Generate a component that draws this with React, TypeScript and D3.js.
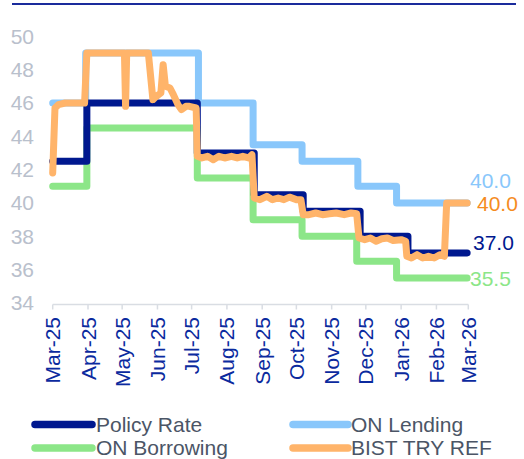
import React from "react";
import * as d3 from "d3";

const W = 524;
const H = 459;

const monthLabels = ["Mar-25","Apr-25","May-25","Jun-25","Jul-25","Aug-25","Sep-25","Oct-25","Nov-25","Dec-25","Jan-26","Feb-26","Mar-26"];
const yTicks = [34, 36, 38, 40, 42, 44, 46, 48, 50];

// Step series: change dates and values (last point = end of data)
const policyDates = ["2025-03-01","2025-03-31","2025-07-06","2025-08-25","2025-10-07","2025-11-26","2026-01-07","2026-02-28"];
const policyValues = [42.5, 46, 43, 40.5, 39.5, 38, 37, 37];

const lendingDates = ["2025-03-01","2025-03-30","2025-07-07","2025-08-24","2025-10-06","2025-11-24","2025-12-28","2026-02-28"];
const lendingValues = [46, 49, 46, 43.5, 42.5, 41, 40, 40];

const borrowingDates = ["2025-03-01","2025-03-31","2025-07-06","2025-08-24","2025-10-06","2025-11-23","2025-12-28","2026-02-28"];
const borrowingValues = [41, 44.5, 41.5, 39, 38, 36.5, 35.5, 35.5];

const bistDates = [
  "2025-03-01","2025-03-03","2025-03-06","2025-03-12","2025-03-29","2025-03-31",
  "2025-05-03","2025-05-04","2025-05-05","2025-05-24","2025-05-28","2025-05-31",
  "2025-06-04","2025-06-06","2025-06-08","2025-06-12","2025-06-15","2025-06-19",
  "2025-06-22","2025-06-26","2025-06-29","2025-07-05","2025-07-06",
  "2025-07-10","2025-07-15","2025-07-20","2025-07-25","2025-07-30","2025-08-05",
  "2025-08-10","2025-08-15","2025-08-20","2025-08-23","2025-08-25",
  "2025-08-30","2025-09-05","2025-09-10","2025-09-15","2025-09-20","2025-09-25",
  "2025-10-01","2025-10-05","2025-10-07",
  "2025-10-12","2025-10-18","2025-10-24","2025-10-30","2025-11-05","2025-11-12",
  "2025-11-18","2025-11-23","2025-11-25",
  "2025-11-30","2025-12-05","2025-12-10","2025-12-15","2025-12-20","2025-12-25",
  "2026-01-01","2026-01-05","2026-01-06",
  "2026-01-10","2026-01-15","2026-01-20","2026-01-25","2026-01-30","2026-02-04",
  "2026-02-08","2026-02-10","2026-02-28"
];
const bistValues = [
  41.8, 45.7, 45.9, 46.0, 46.0, 49.0,
  49.0, 45.8, 49.0, 49.0, 46.2, 46.4,
  46.6, 48.3, 47.0, 46.9, 46.5, 45.9,
  45.6, 45.8, 45.8, 45.7, 42.8,
  42.7, 42.8, 42.6, 42.8, 42.7, 42.8,
  42.7, 42.8, 42.7, 42.9, 40.3,
  40.2, 40.4, 40.2, 40.3, 40.2, 40.35,
  40.2, 40.2, 39.3,
  39.3, 39.4, 39.3, 39.35, 39.4, 39.3,
  39.4, 39.35, 37.9,
  37.8, 37.9, 37.7, 37.85, 37.9, 37.75,
  37.8, 37.7, 36.8,
  36.7, 36.9, 36.7, 36.8, 36.7, 36.9,
  36.8, 40.0, 40.0
];

const COLORS = {
  policy: "#00188f",
  lending: "#89c7fb",
  borrowing: "#8ce688",
  bist: "#ffb46a",
  bistText: "#f58c1f",
  yText: "#b9c0cc",
  xText: "#0b2a9e",
  legendText: "#4b5566",
  axis: "#d9dde3",
  top: "#1a2b9c",
};

const parse = d3.utcParse("%Y-%m-%d");

type Pt = { d: Date; v: number };
const zip = (ds: string[], vs: number[]): Pt[] => ds.map((s, i) => ({ d: parse(s) as Date, v: vs[i] }));

export default function App() {
  const x = d3.scaleUtc()
    .domain([parse("2025-03-01") as Date, parse("2026-03-01") as Date])
    .range([52.7, 468.3]);
  const y = d3.scaleLinear().domain([34, 50]).range([303, 36.3]);

  const stepLine = d3.line<Pt>().x(p => x(p.d)).y(p => y(p.v)).curve(d3.curveStepAfter);
  const plainLine = d3.line<Pt>().x(p => x(p.d)).y(p => y(p.v));

  const tickDates = d3.utcMonth.range(parse("2025-03-01") as Date, parse("2026-03-02") as Date);
  const axisY = 304.5;
  const font = "'Liberation Sans', Arial, sans-serif";
  const sw = 7;

  const series = [
    { key: "lending", path: stepLine(zip(lendingDates, lendingValues)), color: COLORS.lending },
    { key: "borrowing", path: stepLine(zip(borrowingDates, borrowingValues)), color: COLORS.borrowing },
    { key: "policy", path: stepLine(zip(policyDates, policyValues)), color: COLORS.policy },
    { key: "bist", path: plainLine(zip(bistDates, bistValues)), color: COLORS.bist },
  ];

  const endLabels = [
    { text: lendingValues[lendingValues.length - 1].toFixed(1), x: 470, cy: 181, color: COLORS.lending },
    { text: bistValues[bistValues.length - 1].toFixed(1), x: 477, cy: 204, color: COLORS.bistText },
    { text: policyValues[policyValues.length - 1].toFixed(1), x: 473, cy: 243, color: COLORS.policy },
    { text: borrowingValues[borrowingValues.length - 1].toFixed(1), x: 470, cy: 279, color: COLORS.borrowing },
  ];

  const legend = [
    { label: "Policy Rate", color: COLORS.policy, x1: 35, x2: 92, tx: 96, cy: 424.5 },
    { label: "ON Lending", color: COLORS.lending, x1: 293, x2: 348, tx: 351, cy: 424.5 },
    { label: "ON Borrowing", color: COLORS.borrowing, x1: 35, x2: 92, tx: 96, cy: 448 },
    { label: "BIST TRY REF", color: COLORS.bist, x1: 293, x2: 348, tx: 351, cy: 448 },
  ];

  return (
    <svg width={W} height={H} style={{ position: "absolute", left: 0, top: 0, background: "#fff" }} fontFamily={font}>
      <line x1={12} x2={516} y1={4} y2={4} stroke={COLORS.top} strokeWidth={2} />

      {yTicks.map(t => (
        <text key={t} x={34} y={y(t)} dy="0.35em" textAnchor="end" fontSize={21} fill={COLORS.yText}>{t}</text>
      ))}

      <line x1={x.range()[0]} x2={x.range()[1]} y1={axisY} y2={axisY} stroke={COLORS.axis} strokeWidth={1.5} />
      {tickDates.map((d, i) => (
        <g key={i} transform={`translate(${x(d)},0)`}>
          <line y1={axisY} y2={axisY + 5} stroke={COLORS.axis} strokeWidth={1.5} />
          <text transform={`translate(0,317) rotate(-90)`} dy="0.36em" textAnchor="end" fontSize={21} fill={COLORS.xText}>{monthLabels[i]}</text>
        </g>
      ))}

      {series.map(s => (
        <path key={s.key} d={s.path || ""} fill="none" stroke={s.color} strokeWidth={sw} strokeLinejoin="round" strokeLinecap="round" />
      ))}

      {endLabels.map((l, i) => (
        <text key={i} x={l.x} y={l.cy} dy="0.35em" fontSize={21} fill={l.color}>{l.text}</text>
      ))}

      {legend.map(l => (
        <g key={l.label}>
          <line x1={l.x1} x2={l.x2} y1={l.cy} y2={l.cy} stroke={l.color} strokeWidth={7.5} strokeLinecap="round" />
          <text x={l.tx} y={l.cy} dy="0.35em" fontSize={21} fill={COLORS.legendText}>{l.label}</text>
        </g>
      ))}
    </svg>
  );
}
